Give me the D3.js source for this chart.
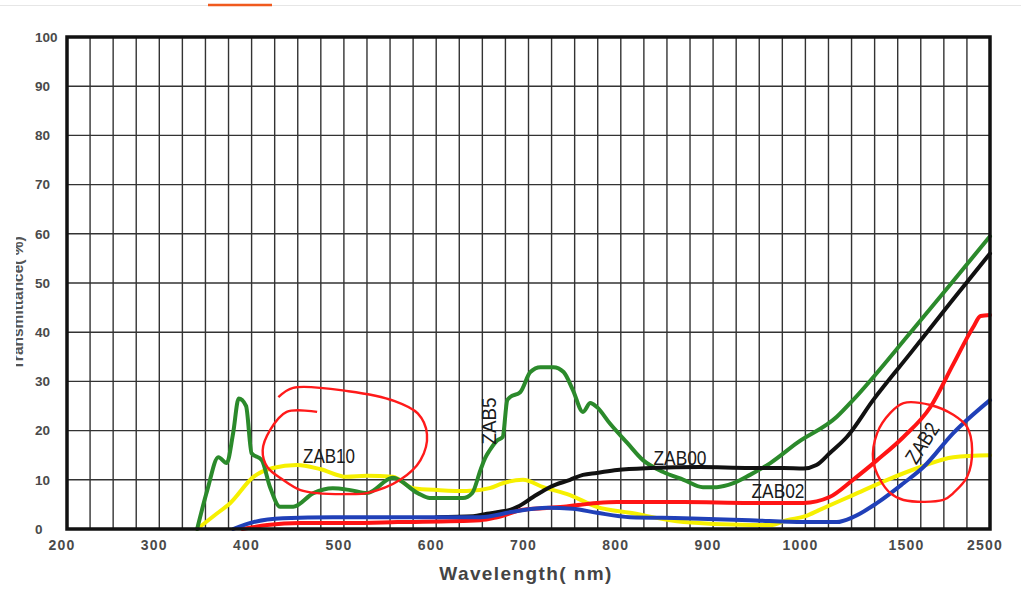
<!DOCTYPE html>
<html>
<head>
<meta charset="utf-8">
<script src="https://cdn.jsdelivr.net/npm/d3@7"></script>
<style>
  html, body { margin: 0; padding: 0; background: #fff; }
  svg { display: block; }
  text { font-family: "Liberation Sans", Arial, sans-serif; }
</style>
</head>
<body>
<svg id="chart" width="1021" height="591"></svg>
<script>
// ---------- data (wavelength nm, transmittance %) ----------
const xTickLabels = [200, 300, 400, 500, 600, 700, 800, 900, 1000, 1500, 2500];
const yTickLabels = [0, 10, 20, 30, 40, 50, 60, 70, 80, 90, 100];

const zab5 = [[341,0],[352,7.9],[364,14.6],[373,13.4],[380,19.5],[386,26.5],[394,25],[400,15.4],[411,14],[420,8.5],[431,4.5],[445,4.5],[467,7.3],[488,8.3],[507,7.9],[525,7.3],[553,10.4],[580,7.3],[593,6.3],[629,6.3],[639,7.3],[648,12],[653,14.4],[658,16],[666,18],[672,18.7],[677,26.2],[680,26.8],[691,27.8],[702,31.9],[713,32.9],[727,32.9],[738,31.9],[748,28.3],[759,23.8],[767,25.6],[774,24.8],[788,21.5],[807,17.5],[824,14],[846,11.6],[868,10],[889,8.5],[904,8.5],[922,9.3],[940,11],[962,13.4],[991,17.5],[1148,22.8],[1224,26.2],[1500,40.2],[2000,49.8],[2500,59.5]];

const zab00 = [[600,2.4],[640,2.6],[655,3.1],[669,3.5],[680,3.9],[688,4.5],[705,6.5],[723,8.5],[745,10],[759,11],[774,11.4],[796,12],[832,12.4],[886,12.6],[940,12.4],[976,12.4],[998,12.3],[1052,13],[1114,15.4],[1195,18.7],[1319,26.2],[1500,36],[2000,46.1],[2500,56]];

const zab02 = [[390,0],[417,0.8],[453,1.2],[507,1.2],[558,1.4],[648,1.8],[666,2.4],[694,3.9],[738,4.5],[774,5.3],[796,5.5],[868,5.5],[940,5.3],[998,5.3],[1114,6.5],[1224,10],[1338,14],[1462,18.7],[1741,24.8],[2032,33.5],[2285,41],[2380,43.3],[2500,43.5]];

const zab2 = [[380,0],[402,1.4],[434,2.2],[488,2.4],[593,2.4],[648,2.4],[683,3.5],[720,4.3],[748,4.1],[774,3.3],[810,2.4],[868,2.2],[940,1.8],[998,1.4],[1148,1.4],[1224,2.4],[1338,5.3],[1462,9.3],[1652,12.6],[2032,19.5],[2500,26.2]];

const zab10 = [[341,0],[360,2.8],[377,5.3],[402,10.6],[423,12.4],[449,13],[474,12.2],[503,10.6],[525,10.8],[553,10.6],[575,8.3],[604,7.9],[633,7.7],[658,8.3],[672,9.3],[694,10],[716,8.5],[745,6.9],[774,4.5],[810,3.3],[868,1.4],[940,0.8],[962,0.8],[980,1.8],[1000,2.6],[1067,3.9],[1224,6.9],[1386,10],[1614,12.6],[2032,14.6],[2500,15]];

// hand-drawn red annotation marks (nm, %)
const mark1 = [[429,26.8],[445,28.7],[505,28],[555,26],[580,23.5],[590,19.3],[583,14],[561,10],[525,7.3],[507,7.1],[471,7.3],[453,7.9],[434,10],[417,12.6],[412,16],[420,20.1],[438,23.8],[471,23.8]];
const mark2 = [[1462,25.6],[1741,25.2],[2032,23.2],[2209,20.7],[2272,16.1],[2209,10.6],[2032,7.3],[1905,5.9],[1462,5.9],[1400,7.3],[1352,10],[1319,14],[1338,19.5],[1400,23.6]];

const seriesNames = ["ZAB10", "ZAB5", "ZAB00", "ZAB02", "ZAB2"];
const seriesColors = ["#f6f000", "#2b8a2b", "#111111", "#ff1414", "#2040b8"];
const seriesData = [zab10, zab5, zab00, zab02, zab2];

// ---------- layout ----------
const L = 67, R = 990, T = 37, B = 529;
const nGrid = 40;
const gx = d3.scaleLinear().domain([0, nGrid]).range([L, R]);
const x = d3.scaleLinear()
  .domain([200, 1000, 1500, 2500])
  .range([gx(0), gx(32), gx(36.6), gx(40)]);
const y = d3.scaleLinear().domain([0, 100]).range([B, T]);

const svg = d3.select("#chart");

// top decorations
svg.append("line").attr("x1", 0).attr("x2", 1021).attr("y1", 5.5).attr("y2", 5.5)
  .attr("stroke", "#e6e6e6").attr("stroke-width", 1);
svg.append("line").attr("x1", 208).attr("x2", 272).attr("y1", 5).attr("y2", 5)
  .attr("stroke", "#f05a1e").attr("stroke-width", 2.5);

// grid
const grid = svg.append("g");
grid.selectAll("line.v").data(d3.range(1, nGrid)).join("line")
  .attr("x1", d => gx(d)).attr("x2", d => gx(d))
  .attr("y1", T).attr("y2", B)
  .attr("stroke", "#333").attr("stroke-width", 1.4);
grid.selectAll("line.h").data(yTickLabels.filter(v => v > 0 && v < 100)).join("line")
  .attr("x1", L).attr("x2", R)
  .attr("y1", d => y(d)).attr("y2", d => y(d))
  .attr("stroke", "#333").attr("stroke-width", 1.4);

// curves
const line = d3.line().x(d => x(d[0])).y(d => y(d[1])).curve(d3.curveMonotoneX);
const curves = svg.append("g");
seriesData.forEach((s, i) => {
  curves.append("path").datum(s)
    .attr("d", line)
    .attr("fill", "none")
    .attr("stroke", seriesColors[i])
    .attr("stroke-width", 4)
    .attr("stroke-linejoin", "round")
    .attr("stroke-linecap", "round");
});

// frame
svg.append("rect").attr("x", L).attr("y", T).attr("width", R - L).attr("height", B - T)
  .attr("fill", "none").attr("stroke", "#111").attr("stroke-width", 3.5);

// y tick labels
svg.append("g").selectAll("text").data(yTickLabels).join("text")
  .attr("x", 35).attr("y", d => y(d)).attr("dy", "0.36em")
  .attr("font-size", 13.5).attr("font-weight", "bold").attr("fill", "#4a4a4a")
  .text(d => d);

// x tick labels
svg.append("g").selectAll("text").data(xTickLabels).join("text")
  .attr("x", d => x(d) - 5).attr("y", 550)
  .attr("text-anchor", "middle")
  .attr("font-size", 14).attr("font-weight", "bold").attr("fill", "#4a4a4a")
  .attr("letter-spacing", 1.2)
  .text(d => d);

// axis titles
svg.append("text").attr("x", 526).attr("y", 580).attr("text-anchor", "middle")
  .attr("font-size", 19).attr("font-weight", "bold").attr("fill", "#444")
  .attr("letter-spacing", 1.4)
  .text("Wavelength( nm)");

svg.append("clipPath").attr("id", "yclip")
  .append("rect").attr("x", 16).attr("y", 0).attr("width", 40).attr("height", 591);
svg.append("g").attr("clip-path", "url(#yclip)")
  .append("text").attr("transform", "translate(23,303) rotate(-90)")
  .attr("text-anchor", "middle").attr("font-size", 15.5).attr("font-weight", "bold")
  .attr("fill", "#555").text("Transmittance( %)");

// curve labels
const lab = svg.append("g").attr("fill", "#1a1a1a").attr("font-size", 21);
lab.append("text").attr("x", 329).attr("y", 463).attr("text-anchor", "middle")
  .attr("textLength", 52).attr("lengthAdjust", "spacingAndGlyphs").text(seriesNames[0]);
lab.append("text").attr("transform", "translate(496,421) rotate(-90)").attr("text-anchor", "middle")
  .attr("textLength", 47).attr("lengthAdjust", "spacingAndGlyphs").text(seriesNames[1]);
lab.append("text").attr("x", 680).attr("y", 465).attr("text-anchor", "middle")
  .attr("textLength", 53).attr("lengthAdjust", "spacingAndGlyphs").text(seriesNames[2]);
lab.append("text").attr("x", 778).attr("y", 498).attr("text-anchor", "middle")
  .attr("textLength", 53).attr("lengthAdjust", "spacingAndGlyphs").text(seriesNames[3]);
lab.append("text").attr("transform", "translate(922,443) rotate(-57)").attr("text-anchor", "middle")
  .attr("dominant-baseline", "central")
  .attr("textLength", 44).attr("lengthAdjust", "spacingAndGlyphs").text(seriesNames[4]);

// red annotation marks
svg.append("path").datum(mark1)
  .attr("d", d3.line().x(d => x(d[0])).y(d => y(d[1])).curve(d3.curveCatmullRom.alpha(0.5)))
  .attr("fill", "none").attr("stroke", "#ff1a1a").attr("stroke-width", 2.4);
svg.append("path").datum(mark2)
  .attr("d", d3.line().x(d => x(d[0])).y(d => y(d[1])).curve(d3.curveCatmullRomClosed.alpha(0.5)))
  .attr("fill", "none").attr("stroke", "#ff1a1a").attr("stroke-width", 2.4);
</script>
</body>
</html>
